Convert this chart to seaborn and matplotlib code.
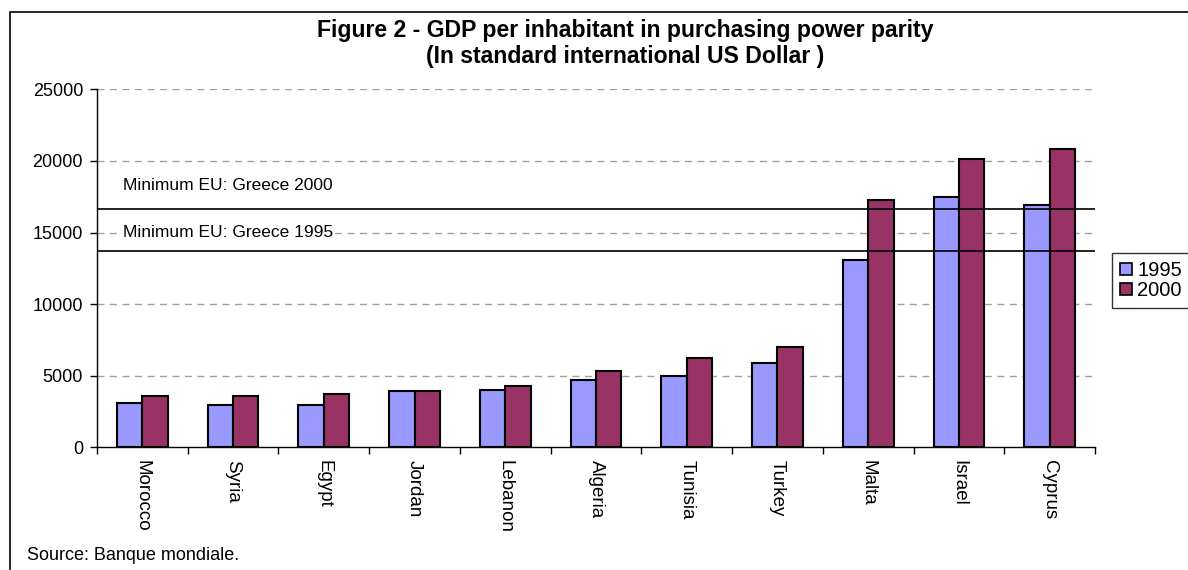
import matplotlib
matplotlib.use("Agg")
import matplotlib.pyplot as plt
import seaborn as sns
import pandas as pd
from matplotlib.patches import Rectangle, Patch
from matplotlib.ticker import FixedLocator

countries = ["Morocco", "Syria", "Egypt", "Jordan", "Lebanon", "Algeria",
             "Tunisia", "Turkey", "Malta", "Israel", "Cyprus"]
gdp_1995 = [3100, 2950, 2950, 3900, 4000, 4700, 4950, 5900, 13100, 17500, 16900]
gdp_2000 = [3550, 3550, 3700, 3900, 4250, 5300, 6250, 7000, 17250, 20100, 20850]
years = ["1995", "2000"]
greece_2000 = 16650
greece_1995 = 13700
yticks = [0, 5000, 10000, 15000, 20000, 25000]

colors = {"1995": "#9999FF", "2000": "#993366"}

sns.set_style("white")
plt.rcParams['font.family'] = ['Liberation Sans', 'DejaVu Sans']
plt.rcParams['text.color'] = 'black'
plt.rcParams['xtick.color'] = 'black'
plt.rcParams['ytick.color'] = 'black'
plt.rcParams['axes.labelcolor'] = 'black'

df = pd.DataFrame({
    "country": countries * 2,
    "year": [years[0]] * len(countries) + [years[1]] * len(countries),
    "gdp": gdp_1995 + gdp_2000,
})

W, H = 1188, 570
fig = plt.figure(figsize=(W / 100, H / 100), dpi=100)
ax = fig.add_axes([97 / W, 1 - 447.3 / H, (1095 - 97) / W, (447.3 - 89.3) / H])

sns.barplot(data=df, x="country", y="gdp", hue="year", order=countries,
            hue_order=years, palette=colors, width=0.56, gap=0,
            edgecolor="black", linewidth=1.5, saturation=1, errorbar=None,
            legend=False, ax=ax, zorder=2)

ax.set_xlim(-0.5, len(countries) - 0.5)
ax.set_ylim(0, 25000)
ax.set_yticks(yticks)
ax.set_xlabel("")
ax.set_ylabel("")

# grid
for v in yticks[1:]:
    ax.axhline(v, color="#a0a0a0", lw=1.0, ls=(0, (5, 4)), zorder=1)

# reference lines
ax.axhline(greece_2000, color="black", lw=1.2, zorder=4)
ax.axhline(greece_1995, color="black", lw=1.2, zorder=4)
tx = (123 - 97) / (1095 - 97)
ax.text(tx, 18300, "Minimum EU: Greece 2000", transform=ax.get_yaxis_transform(),
        fontsize=12.5, va="center", ha="left", zorder=5, color="black")
ax.text(tx, 15000, "Minimum EU: Greece 1995", transform=ax.get_yaxis_transform(),
        fontsize=12.5, va="center", ha="left", zorder=5, color="black",
        bbox=dict(facecolor="white", edgecolor="none", pad=1))

for s in ["top", "right"]:
    ax.spines[s].set_visible(False)
for s in ["left", "bottom"]:
    ax.spines[s].set_color("black")
    ax.spines[s].set_linewidth(1.0)

ax.tick_params(axis="y", which="major", length=5, width=1, color="black",
               direction="out", left=True, labelsize=13, pad=5, labelcolor="black")
ax.xaxis.set_minor_locator(FixedLocator([i - 0.5 for i in range(len(countries) + 1)]))
ax.tick_params(axis="x", which="minor", length=5, width=1, color="black",
               direction="out", bottom=True)
ax.tick_params(axis="x", which="major", length=0, labelsize=13.5, pad=9, labelcolor="black")
for lbl in ax.get_xticklabels():
    lbl.set_rotation(-90)
    lbl.set_ha("center")
    lbl.set_va("top")

# legend
handles = [Patch(facecolor=colors[y], edgecolor="black", linewidth=1.2, label=y) for y in years]
leg = fig.legend(handles=handles, loc="upper left", bbox_to_anchor=(1112 / W, 1 - 253 / H),
                 frameon=True, fancybox=False, shadow=False, fontsize=14.5,
                 handlelength=0.6, handleheight=0.6, handletextpad=0.25,
                 labelspacing=0.05, borderpad=0.4, borderaxespad=0)
leg.get_frame().set_edgecolor("black")
leg.get_frame().set_linewidth(1.0)
for t in leg.get_texts():
    t.set_color("black")

# titles
fig.text(625 / W, 1 - 30 / H, "Figure 2 - GDP per inhabitant in purchasing power parity",
         ha="center", va="center", fontsize=16.6, fontweight="bold", color="black")
fig.text(625 / W, 1 - 57 / H, "(In standard international US Dollar )",
         ha="center", va="center", fontsize=16.6, fontweight="bold", color="black")
fig.text(27 / W, 1 - 555 / H, "Source: Banque mondiale.", ha="left", va="center",
         fontsize=13, color="black")

# outer frame
fig.add_artist(Rectangle((10 / W, -0.1), 1.2, (1 - 12 / H) + 0.1, transform=fig.transFigure,
                         fill=False, edgecolor="black", linewidth=1.2))

fig.savefig("out.png", dpi=100)
